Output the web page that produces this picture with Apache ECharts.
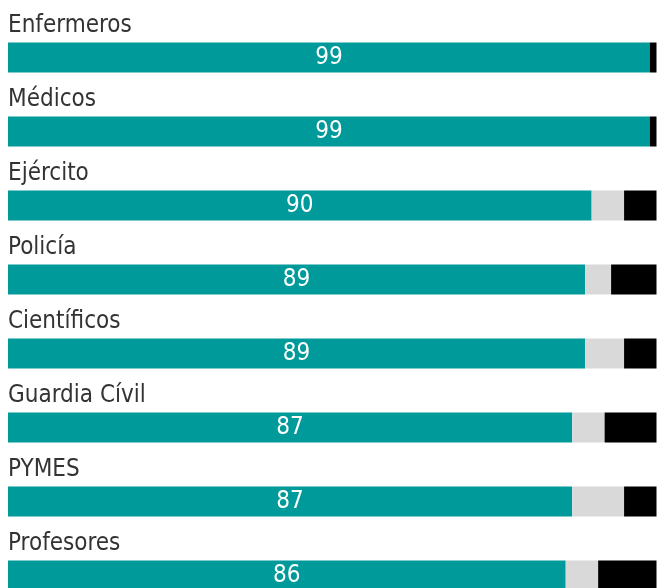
<!DOCTYPE html>
<html>
<head>
<meta charset="utf-8">
<script src="https://cdn.jsdelivr.net/npm/echarts@6/dist/echarts.min.js"></script>
<style>
  html, body { margin: 0; padding: 0; background: #fff; }
  #chart { width: 661px; height: 588px; }
</style>
</head>
<body>
<div id="chart"></div>
<script>
// categories top to bottom
const categories = ['Enfermeros', 'Médicos', 'Ejército', 'Policía', 'Científicos', 'Guardia Cívil', 'PYMES', 'Profesores'];
// teal part (shown as the label), light grey part, black part
const valoracion = [99, 99, 90, 89, 89, 87, 87, 86];
const neutral = [0, 0, 5, 4, 6, 5, 8, 5];
const negativa = [1, 1, 5, 7, 5, 8, 5, 9];

const fontFam = '"Liberation Sans Narrow", "DejaVu Sans Condensed", "Liberation Sans", sans-serif';

let chart = echarts.init(document.getElementById('chart'));
chart.setOption({
    animation: false,
    grid: {
        left: 8,
        right: 4.5,
        top: 20.5,
        height: 592,
        containLabel: false,
        outerBoundsMode: 'none'
    },
    xAxis: {
        type: 'value',
        min: 0,
        max: 100,
        show: false
    },
    yAxis: {
        type: 'category',
        data: categories,
        inverse: true,
        axisLine: { show: false },
        axisTick: { show: false },
        splitLine: { show: false },
        axisLabel: {
            inside: true,
            interval: 0,
            margin: 0,
            align: 'left',
            verticalAlign: 'bottom',
            lineHeight: 25,
            padding: [0, 0, 19, 0],
            color: '#333',
            fontSize: 24,
            fontFamily: fontFam
        },
        z: 10
    },
    series: [
        {
            type: 'bar',
            stack: 'total',
            data: valoracion,
            barWidth: 30,
            itemStyle: { color: '#009a9a' },
            label: {
                show: true,
                position: 'inside',
                color: '#fff',
                fontSize: 24,
                fontFamily: fontFam
            }
        },
        {
            type: 'bar',
            stack: 'total',
            data: neutral,
            barWidth: 30,
            itemStyle: { color: '#d9d9d9' }
        },
        {
            type: 'bar',
            stack: 'total',
            data: negativa,
            barWidth: 30,
            itemStyle: { color: '#000' }
        }
    ]
});
</script>
</body>
</html>
